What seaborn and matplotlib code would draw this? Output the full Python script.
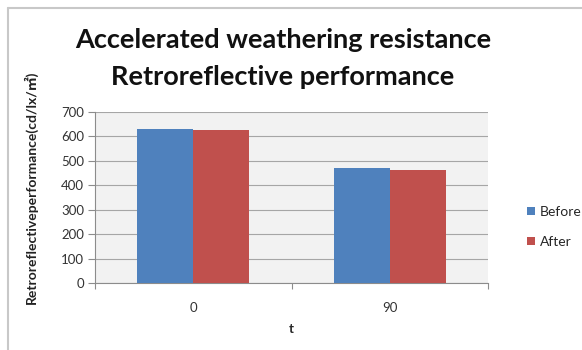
import matplotlib
matplotlib.use("Agg")
import matplotlib.pyplot as plt
import seaborn as sns
import pandas as pd
from matplotlib.lines import Line2D

categories = ["0", "90"]
before_values = [631, 470]
after_values = [625, 461]
series_names = ["Before", "After"]
y_ticks = [0, 100, 200, 300, 400, 500, 600, 700]

df = pd.DataFrame({
    "cat": categories * 2,
    "value": before_values + after_values,
    "series": [series_names[0]] * len(categories) + [series_names[1]] * len(categories),
})

sns.set_theme(style="white")
plt.rcParams["font.family"] = ["Lato", "DejaVu Sans"]

fig = plt.figure(figsize=(5.82, 3.5), dpi=100)
fig.patch.set_facecolor("white")
ax = fig.add_axes([95/582, 1-283/350, (488-95)/582, (283-112)/350])
ax.set_facecolor("#f2f2f2")

palette = {"Before": "#4F81BD", "After": "#C0504D"}
sns.barplot(data=df, x="cat", y="value", hue="series", order=categories,
            hue_order=series_names, palette=palette, width=0.57,
            saturation=1, ax=ax, legend=False, linewidth=0, zorder=3)

ax.set_xlim(-0.5, 1.5)
ax.set_ylim(0, 700)
ax.set_yticks(y_ticks)
ax.set_yticklabels([str(v) for v in y_ticks], fontsize=9.5, color="#333333")
ax.yaxis.grid(True, color="#a6a6a6", linewidth=0.8, zorder=0)
ax.set_axisbelow(True)
ax.tick_params(axis="y", which="major", length=5, width=0.8, color="#8c8c8c",
               direction="out", left=True, pad=3)
ax.set_xticks([0, 1])
ax.set_xticklabels(categories, fontsize=9.5, color="#333333")
ax.tick_params(axis="x", which="major", length=0, pad=14)
ax.set_xticks([-0.5, 0.5, 1.5], minor=True)
ax.tick_params(axis="x", which="minor", length=4, width=0.8, color="#8c8c8c",
               direction="out", bottom=True)
for side in ["top", "right"]:
    ax.spines[side].set_visible(False)
for side in ["left", "bottom"]:
    ax.spines[side].set_color("#8c8c8c")
    ax.spines[side].set_linewidth(0.8)

ax.set_xlabel("t", fontsize=9.5, fontweight="bold", labelpad=6)
ax.set_ylabel("Retroreflectiveperformance(cd/lx/㎡)", fontsize=10,
              fontweight="bold", color="#222222",
              family=["Lato", "Noto Sans CJK SC", "DejaVu Sans"])
ax.yaxis.set_label_coords(-0.145, 0.56)

fig.text(283/582, 1-40/350, "Accelerated weathering resistance",
         ha="center", va="center", fontsize=19.5, fontweight="bold", color="#111111")
fig.text(283/582, 1-77/350, "Retroreflective performance",
         ha="center", va="center", fontsize=19.5, fontweight="bold", color="#111111")

handles = [Line2D([0], [0], marker="s", linestyle="", markersize=5.5,
                  markerfacecolor=palette[s], markeredgewidth=0) for s in series_names]
fig.legend(handles, series_names, loc="center left",
           bbox_to_anchor=(512/582, 1-227/350), frameon=False, fontsize=10,
           handletextpad=0.1, labelspacing=1.3, handlelength=1.0)

# figure border (top and left visible)
fig.add_artist(Line2D([8/582, 8/582], [0, 1-8/350], color="#c8c8c8", linewidth=1.5,
                      transform=fig.transFigure))
fig.add_artist(Line2D([8/582, 1], [1-8/350, 1-8/350], color="#c8c8c8", linewidth=1.5,
                      transform=fig.transFigure))

fig.savefig("out.png", dpi=100)
